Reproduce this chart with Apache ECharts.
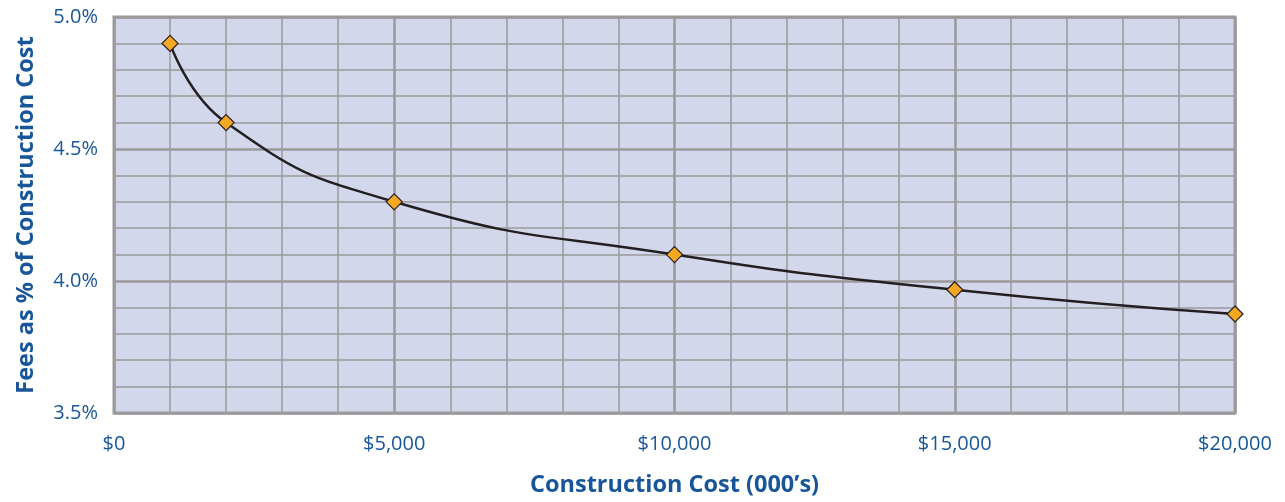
<!DOCTYPE html>
<html><head><meta charset="utf-8">
<script src="https://cdn.jsdelivr.net/npm/echarts@6/dist/echarts.min.js"></script>
<style>html,body{margin:0;padding:0;background:#fff;overflow:hidden}#c{width:100vw;height:100vh}</style>
</head><body><div id="c"></div>
<script>
const costs = [1000, 2000, 5000, 10000, 15000, 20000];
const feePct = [4.9, 4.6, 4.3, 4.1, 3.967, 3.875];
const xTicks = [0, 5000, 10000, 15000, 20000];
const yTicks = [3.5, 4.0, 4.5, 5.0];
const xTitle = 'Construction Cost (000’s)';
const yTitle = 'Fees as % of Construction Cost';

const blue = '#17569a';
const font = '"Open Sans", "Noto Sans", sans-serif';
const chart = echarts.init(document.getElementById('c'), null, {renderer: 'canvas'});
chart.setOption({
  animation: false,
  grid: {left: 114, right: 50, top: 17, bottom: 80, show: true, backgroundColor: '#d3d7ec', borderColor: '#9a9a9a', borderWidth: 3},
  xAxis: {
    type: 'value', min: xTicks[0], max: xTicks[xTicks.length-1], interval: 5000,
    name: xTitle, nameLocation: 'middle', nameGap: 60,
    nameTextStyle: {color: blue, fontSize: 23.5, fontWeight: 'bold', fontFamily: font},
    axisLine: {show: false}, axisTick: {show: false},
    axisLabel: {color: blue, fontSize: 20, fontFamily: font, margin: 21,
      formatter: v => '$' + v.toLocaleString('en-US')},
    splitLine: {show: true, lineStyle: {color: '#9a9a9a', width: 2.5}},
    minorTick: {show: false, splitNumber: 5},
    minorSplitLine: {show: true, lineStyle: {color: '#9a9a9a', width: 1.5}}
  },
  yAxis: {
    type: 'value', min: yTicks[0], max: yTicks[yTicks.length-1], interval: 0.5,
    name: yTitle, nameLocation: 'middle', nameGap: 76, nameRotate: 90,
    nameTextStyle: {color: blue, fontSize: 23.5, fontWeight: 'bold', fontFamily: font},
    axisLine: {show: false}, axisTick: {show: false},
    axisLabel: {color: blue, fontSize: 20, fontFamily: font, margin: 16,
      formatter: v => v.toFixed(1) + '%'},
    splitLine: {show: true, lineStyle: {color: '#9a9a9a', width: 2.5}},
    minorTick: {show: false, splitNumber: 5},
    minorSplitLine: {show: true, lineStyle: {color: '#9a9a9a', width: 1.5}}
  },
  series: [{
    type: 'line', smooth: 0.5,
    data: costs.map((c, i) => [c, feePct[i]]),
    symbol: 'diamond', symbolSize: 16,
    lineStyle: {color: '#231f20', width: 2.5},
    itemStyle: {color: '#f7a823', borderColor: '#231f20', borderWidth: 1.2}
  }]
});
</script></body></html>
